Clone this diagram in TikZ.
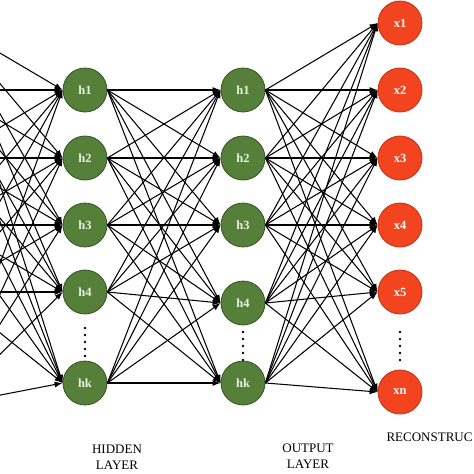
\documentclass[tikz,border=0pt]{standalone}
\usepackage{fontspec}
\setmainfont{Liberation Serif}
\usetikzlibrary{arrows.meta}
\definecolor{hfill}{RGB}{86,128,58}
\definecolor{hdraw}{RGB}{52,84,34}
\definecolor{htext}{RGB}{232,242,222}
\definecolor{ofill}{RGB}{243,68,32}
\definecolor{odraw}{RGB}{196,48,20}
\begin{document}
\begin{tikzpicture}[x=1pt,y=-1pt,
  hnode/.style={circle,draw=hdraw,fill=hfill,line width=0.8pt,minimum size=44pt,inner sep=0pt,text=htext,font=\bfseries\fontsize{12.5}{13}\selectfont},
  onode/.style={circle,draw=odraw,fill=ofill,line width=0.8pt,minimum size=44pt,inner sep=0pt,text=white,font=\bfseries\fontsize{12.5}{13}\selectfont},
  conn/.style={line width=1.05pt,-{Latex[length=8pt,width=6pt]}},
  lbl/.style={font=\fontsize{13}{15.5}\selectfont,align=center,text=black}
]
\useasboundingbox (0,0) rectangle (474,474);
\fill[white] (0,0) rectangle (474,474);
\clip (0,0) rectangle (474,474);
% input coordinates (off the picture, left)
\foreach \i/\y in {1/23,2/90,3/158,4/225,5/292,6/405}
  \coordinate (in\i) at (-51,\y);
% first hidden layer
\foreach \i/\y/\t in {1/90/h1,2/158/h2,3/225/h3,4/292/h4,5/383/hk}
  \node[hnode] (a\i) at (85,\y) {\t};
% second hidden layer
\foreach \i/\y/\t in {1/90/h1,2/158/h2,3/225/h3,4/303/h4,5/383/hk}
  \node[hnode] (b\i) at (243,\y) {\t};
% output layer
\foreach \i/\y/\t in {1/23/x1,2/90/x2,3/158/x3,4/225/x4,5/292/x5,6/392/xn}
  \node[onode] (o\i) at (400,\y) {\t};
% connectors
\foreach \i in {1,...,6}
  \foreach \j in {1,...,5}
    \draw[conn] (in\i) -- (a\j.west);
\foreach \i in {1,...,5}
  \foreach \j in {1,...,5}
    \draw[conn] (a\i.east) -- (b\j.west);
\foreach \i in {1,...,5}
  \foreach \j in {1,...,6}
    \draw[conn] (b\i.east) -- (o\j.west);
% vertical dots
\foreach \k in {0,...,4}{
  \fill (85,328+7*\k) circle (1.3pt);
  \fill (243,332+7*\k) circle (1.3pt);
  \fill (400,332+7*\k) circle (1.3pt);
}
% labels
\node[lbl] (lh) at (117,457) {HIDDEN\\LAYER};
\node[lbl] (lo) at (308,456) {OUTPUT\\LAYER};
\node[lbl,anchor=west] (lr) at (383,437) {RECONSTRUC};
\end{tikzpicture}
\end{document}
